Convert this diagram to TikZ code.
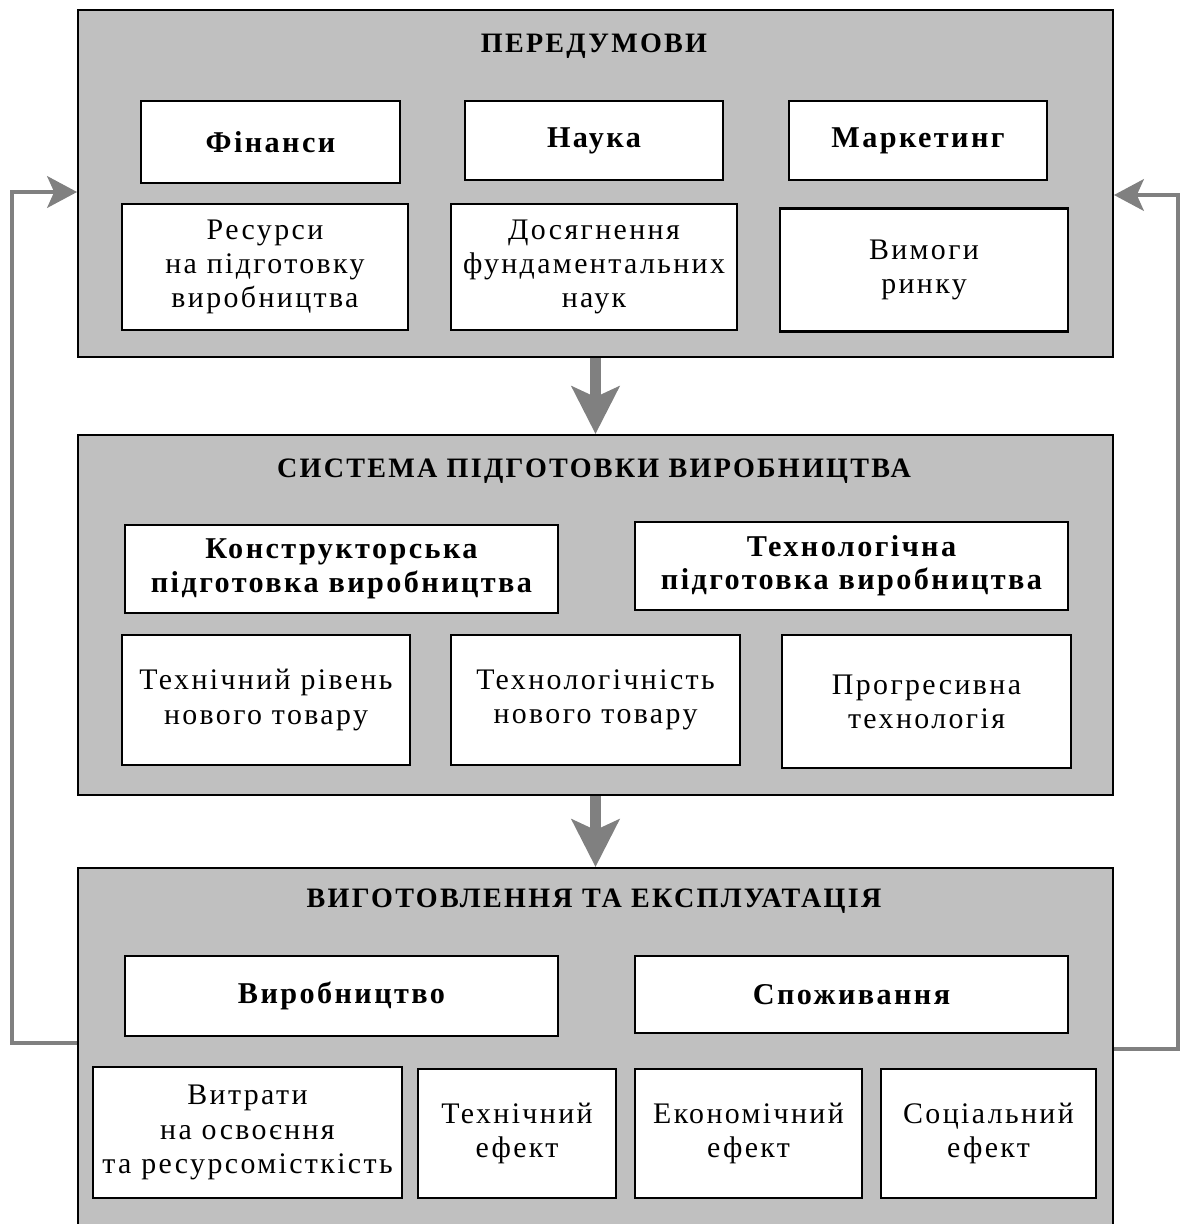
\documentclass[tikz,border=0pt]{standalone}
\usepackage{fontspec}
\setmainfont{Liberation Serif}[LetterSpace=8]
\usepackage{tikz}
\usetikzlibrary{arrows.meta}

\definecolor{panelgray}{HTML}{C0C0C0}
\definecolor{arrowgray}{HTML}{808080}

\tikzset{
  panel/.style={draw=black, line width=1.2pt, fill=panelgray, minimum width=20.7cm},
  title/.style={font=\fontsize{16}{19}\selectfont\bfseries},
  headbox/.style={draw=black, line width=1.2pt, fill=white, align=center,
    font=\fontsize{17.2}{19}\selectfont\bfseries},
  itembox/.style={draw=black, line width=1.2pt, fill=white, align=center,
    font=\fontsize{17}{19.5}\selectfont},
  bigarrow/.style={draw=arrowgray, line width=6.8pt,
    -{Stealth[length=27pt, width=27pt, inset=6pt]}},
  fback/.style={draw=arrowgray, line width=2.2pt,
    -{Stealth[length=17pt, width=18pt, inset=4pt]}}
}

\begin{document}
\begin{tikzpicture}[x=0.02cm, y=-0.02cm]
    \clip (0,0) rectangle (1187,1224);

    % Panels
    \node[panel, minimum height=6.94cm] (pre) at (595.5,183.5) {};
    \node[panel, minimum height=7.2cm] (sys) at (595.5,615) {};
    \node[panel, minimum height=7.44cm] (man) at (595.5,1054) {};

    % Top panel
    \node[title] (pretitle) at (594,46) {ПЕРЕДУМОВИ};
    \node[headbox, minimum width=5.18cm, minimum height=1.64cm] (fin) at (270.5,142) {Фінанси};
    \node[headbox, minimum width=5.16cm, minimum height=1.58cm] (sci) at (594,140.5) {Наука};
    \node[headbox, minimum width=5.16cm, minimum height=1.58cm] (mkt) at (918,140.5) {Маркетинг};
    \node[itembox, minimum width=5.72cm, minimum height=2.52cm] (res) at (265,267) {Ресурси\\на підготовку\\виробництва};
    \node[itembox, minimum width=5.72cm, minimum height=2.52cm] (fund) at (594,267) {Досягнення\\фундаментальних\\наук};
    \node[itembox, minimum width=5.76cm, minimum height=2.46cm] (req) at (924,270) {Вимоги\\ринку};

    % Middle panel
    \node[title] (systitle) at (594,471) {СИСТЕМА ПІДГОТОВКИ ВИРОБНИЦТВА};
    \node[headbox, minimum width=8.66cm, minimum height=1.76cm] (kon) at (341.5,569) {Конструкторська\\підготовка виробництва};
    \node[headbox, minimum width=8.66cm, minimum height=1.76cm] (tech) at (851.5,566) {Технологічна\\підготовка виробництва};
    \node[itembox, minimum width=5.76cm, minimum height=2.6cm] (lvl) at (266,700) {Технічний рівень\\нового товару};
    \node[itembox, minimum width=5.78cm, minimum height=2.6cm] (mfg) at (595.5,700) {Технологічність\\нового товару};
    \node[itembox, minimum width=5.78cm, minimum height=2.66cm] (prog) at (926.5,701.5) {Прогресивна\\технологія};

    % Bottom panel
    \node[title] (mantitle) at (594,901) {ВИГОТОВЛЕННЯ ТА ЕКСПЛУАТАЦІЯ};
    \node[headbox, minimum width=8.66cm, minimum height=1.6cm] (prod) at (341.5,996) {Виробництво};
    \node[headbox, minimum width=8.66cm, minimum height=1.54cm] (cons) at (851.5,994.5) {Споживання};
    \node[itembox, minimum width=6.18cm, minimum height=2.62cm] (cost) at (247.5,1132.5) {Витрати\\на освоєння\\та ресурсомісткість};
    \node[itembox, minimum width=3.96cm, minimum height=2.58cm] (teff) at (517,1133.5) {Технічний\\ефект};
    \node[itembox, minimum width=4.54cm, minimum height=2.58cm] (eeff) at (748.5,1133.5) {Економічний\\ефект};
    \node[itembox, minimum width=4.3cm, minimum height=2.58cm] (seff) at (988.5,1133.5) {Соціальний\\ефект};

    % Flow between panels
    \draw[bigarrow] (pre) -- (sys);
    \draw[bigarrow] (sys) -- (man);

    % Feedback loops
    \coordinate (lo) at (12,1043);
    \coordinate (li) at (12,192);
    \coordinate (ro) at (1178,1049);
    \coordinate (ri) at (1178,195);
    \draw[fback] (man.west |- lo) -- (lo) -- (li) -- (pre.west |- li);
    \draw[fback] (man.east |- ro) -- (ro) -- (ri) -- (pre.east |- ri);
\end{tikzpicture}
\end{document}
